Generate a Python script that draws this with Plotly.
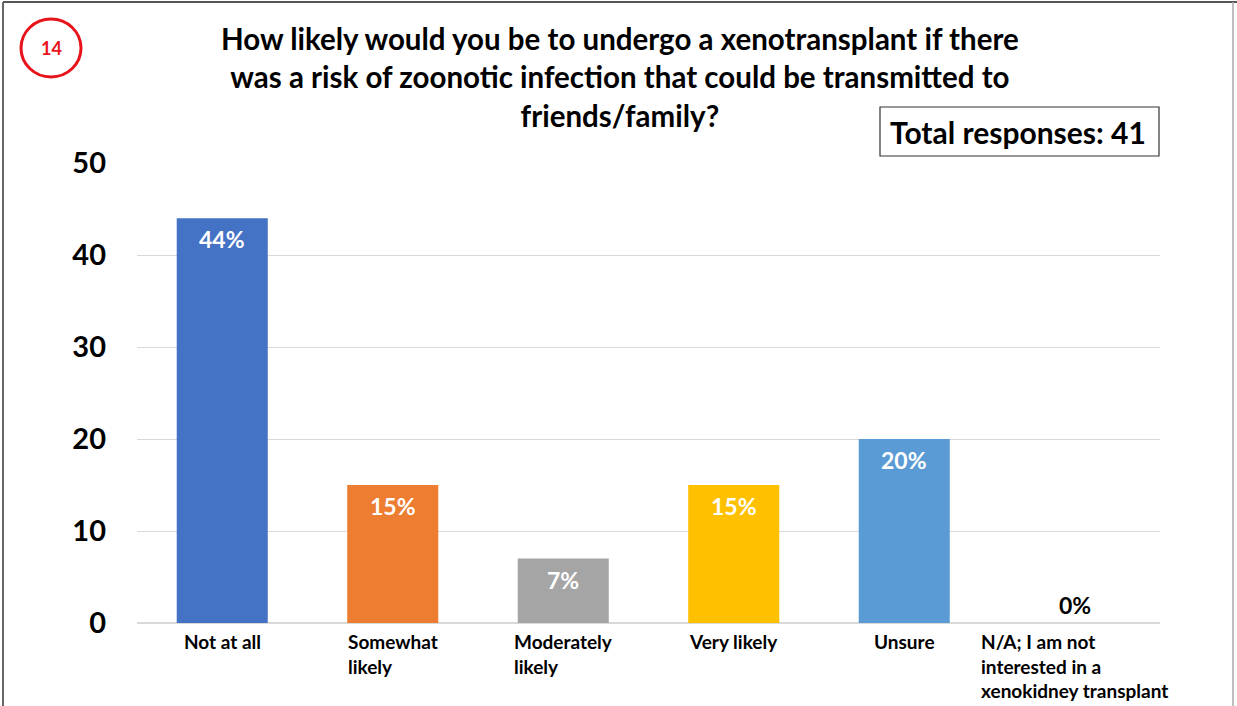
import plotly.graph_objects as go

categories = ["Not at all", "Somewhat likely", "Moderately likely", "Very likely", "Unsure",
              "N/A; I am not interested in a xenokidney transplant"]
tick_labels = ["Not at all", "Somewhat<br>likely", "Moderately<br>likely", "Very likely", "Unsure",
               "N/A; I am not<br>interested in a<br>xenokidney transplant"]
values = [44, 15, 7, 15, 20, 0]
value_labels = ["44%", "15%", "7%", "15%", "20%", "0%"]
colors = ["#4472C4", "#ED7D31", "#A5A5A5", "#FFC000", "#5B9BD5", "#70AD47"]
y_ticks = [0, 10, 20, 30, 40, 50]
title_text = ("How likely would you be to undergo a xenotransplant if there<br>"
              "was a risk of zoonotic infection that could be transmitted to<br>"
              "friends/family?")
total_text = "Total responses: 41"
badge_text = "14"

W, H = 1237, 706
L, R, T, B = 137, 77, 163, 83
PW, PH = W - L - R, H - T - B

def px(x):
    return (x - L) / PW

def py(y):
    return (H - B - y) / PH

FONT = "Lato"

fig = go.Figure()
fig.add_trace(go.Bar(
    x=categories, y=values,
    marker=dict(color=colors, line=dict(width=0)),
    hoverinfo="skip",
))

annotations = []
for c, v, lab in zip(categories, values, value_labels):
    annotations.append(dict(
        x=c, xref="x", y=v, yref="y", text=lab, showarrow=False,
        xanchor="center", yanchor="middle", yshift=(-21 if v > 0 else 18),
        font=dict(family=FONT, size=23, weight="bold", color=("white" if v > 0 else "black")),
    ))

for c, lab in zip(categories, tick_labels):
    annotations.append(dict(
        x=c, xref="x", y=py(628), yref="paper", text=lab, showarrow=False,
        xanchor="center", yanchor="top", align="left",
        font=dict(family=FONT, size=19, weight="bold", color="black"),
    ))

annotations.append(dict(
    x=px(620), xref="paper", y=py(19), yref="paper", text=title_text, showarrow=False,
    xanchor="center", yanchor="top", align="center",
    font=dict(family=FONT, size=29.5, weight="bold", color="black"),
))
annotations.append(dict(
    x=px(1018), xref="paper", y=py(132), yref="paper", text=total_text, showarrow=False,
    xanchor="center", yanchor="middle",
    font=dict(family=FONT, size=30, weight="bold", color="black"),
))
annotations.append(dict(
    x=px(51), xref="paper", y=py(48), yref="paper", text=badge_text, showarrow=False,
    xanchor="center", yanchor="middle",
    font=dict(family=FONT, size=18, weight="bold", color="#E8141B"),
))

shapes = [
    dict(type="rect", xref="paper", yref="paper", x0=px(880), x1=px(1159), y0=py(156), y1=py(107),
         line=dict(color="#333333", width=1.2), fillcolor="white", layer="below"),
    dict(type="circle", xref="paper", yref="paper", x0=px(21), x1=px(81), y0=py(77), y1=py(19),
         line=dict(color="#E8141B", width=3)),
    # outer frame
    dict(type="line", xref="paper", yref="paper", x0=px(3), x1=px(1237), y0=py(2), y1=py(2),
         line=dict(color="#555555", width=2)),
    dict(type="line", xref="paper", yref="paper", x0=px(3), x1=px(3), y0=py(2), y1=py(706),
         line=dict(color="#666666", width=2)),
    dict(type="line", xref="paper", yref="paper", x0=px(1233), x1=px(1233), y0=py(2), y1=py(706),
         line=dict(color="#AAAAAA", width=1.5)),
]

fig.update_layout(
    width=W, height=H,
    margin=dict(l=L, r=R, t=T, b=B, autoexpand=False),
    paper_bgcolor="white", plot_bgcolor="white",
    showlegend=False,
    bargap=0.466,
    annotations=annotations,
    shapes=shapes,
    font=dict(family=FONT),
)
fig.update_xaxes(showticklabels=False, showgrid=False, showline=False, zeroline=False, ticks="",
                 automargin=False, range=[-0.5, len(categories) - 0.5])
fig.update_yaxes(range=[0, 50], tickvals=y_ticks, showgrid=True, gridcolor="#D9D9D9", gridwidth=1,
                 zeroline=True, zerolinecolor="#D9D9D9", zerolinewidth=1.5, showline=False, ticks="",
                 tickfont=dict(family=FONT, size=29, weight="bold", color="black"),
                 ticklabelstandoff=30, automargin=False)

fig.write_html("out.html", config={"displayModeBar": False})
